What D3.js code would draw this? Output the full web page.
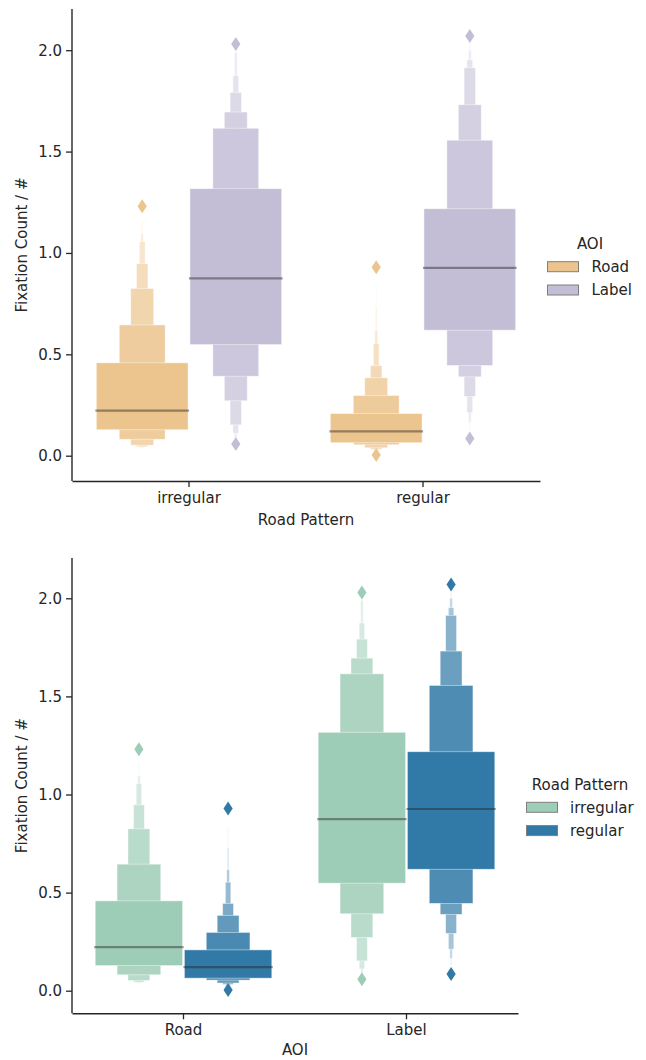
<!DOCTYPE html>
<html>
<head>
<meta charset="utf-8">
<script src="https://cdn.jsdelivr.net/npm/d3@7"></script>
<style>
  html, body { margin: 0; padding: 0; background: #fff; }
  text { font-family: "DejaVu Sans", sans-serif; fill: #262626; }
</style>
</head>
<body>
<svg id="chart" width="646" height="1060"></svg>
<script>
// ---------------- DATA ----------------
const roadPatterns = ["irregular", "regular"];
const aois = ["Road", "Label"];
const yTicks = [0.0, 0.5, 1.0, 1.5, 2.0];

// groups (AOI x Road Pattern)
const groupAOI = ["Road", "Road", "Label", "Label"];
const groupPattern = ["irregular", "regular", "irregular", "regular"];
const medianValues = [0.222, 0.120, 0.875, 0.926];
// letter values, innermost (quartiles) outward
const upperLetterValues = [
  [0.458, 0.645, 0.825, 0.947, 1.056, 1.095, 1.160],
  [0.208, 0.297, 0.384, 0.445, 0.553, 0.617, 0.730, 0.830],
  [1.317, 1.615, 1.695, 1.792, 1.874, 1.990, 2.010],
  [1.218, 1.556, 1.731, 1.913, 1.952, 2.000, 2.034]
];
const lowerLetterValues = [
  [0.128, 0.081, 0.052, 0.044, 0.041, 0.039, 0.037],
  [0.064, 0.054, 0.039, 0.032, 0.027, 0.023, 0.020, 0.015],
  [0.548, 0.392, 0.271, 0.152, 0.111, 0.089, 0.075],
  [0.619, 0.445, 0.389, 0.292, 0.212, 0.165, 0.130]
];
const outlierValues = [
  [1.23],
  [0.929, 0.003],
  [2.030, 0.058],
  [2.070, 0.085]
];

const aoiColors = ["#ecc48d", "#c3bed6"];
const patternColors = ["#9ecdb7", "#3179a6"];

// ---------------- DRAW ----------------
const svg = d3.select("#chart");
const ink = "#262626";

function drawPanel(cfg) {
  const g = svg.append("g");
  const x = d3.scaleBand().domain(cfg.cats).range([cfg.left, cfg.right]);
  const y = d3.scaleLinear().domain([0, 2]).range([cfg.y0, cfg.y2]);
  const hue = d3.scaleBand().domain(cfg.hues).range([-0.4 * x.bandwidth(), 0.4 * x.bandwidth()]);
  const color = d3.scaleOrdinal().domain(cfg.hues).range(cfg.colors);
  const boxW = hue.bandwidth() * 0.98;

  // boxes
  groupAOI.forEach((aoi, gi) => {
    const pat = groupPattern[gi];
    const cat = cfg.outerIsAOI ? aoi : pat;
    const h = cfg.outerIsAOI ? pat : aoi;
    const cx = x(cat) + x.bandwidth() / 2 + hue(h) + hue.bandwidth() / 2;
    const base = color(h);
    const up = upperLetterValues[gi], lo = lowerLetterValues[gi];
    const n = up.length;
    const levels = d3.range(n).reverse();
    const bg = g.append("g");
    bg.selectAll("rect").data(levels).enter().append("rect")
      .attr("x", k => cx - boxW * Math.pow(0.5, k) / 2)
      .attr("width", k => boxW * Math.pow(0.5, k))
      .attr("y", k => y(up[k]))
      .attr("height", k => y(lo[k]) - y(up[k]))
      .attr("fill", k => d3.interpolateRgb(base, "#ffffff")(n > 1 ? 0.85 * k / (n - 1) : 0))
      .attr("stroke", "#ffffff")
      .attr("stroke-opacity", 0.55)
      .attr("stroke-width", 0.8);
    // median
    bg.append("line")
      .attr("x1", cx - boxW / 2 - 1).attr("x2", cx + boxW / 2 + 1)
      .attr("y1", y(medianValues[gi])).attr("y2", y(medianValues[gi]))
      .attr("stroke", ink).attr("stroke-opacity", 0.45).attr("stroke-width", 2.2);
    // outliers (diamonds)
    bg.selectAll("path.out").data(outlierValues[gi]).enter().append("path")
      .attr("class", "out")
      .attr("d", v => {
        const py = y(v), hw = 4.6, hh = 7;
        return `M${cx},${py - hh}L${cx + hw},${py}L${cx},${py + hh}L${cx - hw},${py}Z`;
      })
      .attr("fill", base);
  });

  // axes
  const yAxis = d3.axisLeft(d3.scaleLinear().domain(y.domain()).range(y.range()))
    .tickValues(yTicks).tickFormat(d3.format(".1f")).tickSize(6).tickPadding(4).tickSizeOuter(0);
  const ya = g.append("g").attr("transform", `translate(${cfg.left},0)`).call(yAxis);
  // extend domain line to full axes height
  ya.select(".domain").attr("d", `M0,${cfg.top}V${cfg.bottom}`);
  const xAxis = d3.axisBottom(x).tickSize(6).tickPadding(5).tickSizeOuter(0);
  const xa = g.append("g").attr("transform", `translate(0,${cfg.bottom})`).call(xAxis);
  [ya, xa].forEach(a => {
    a.select(".domain").attr("stroke", ink).attr("stroke-width", 1.4);
    a.selectAll(".tick line").attr("stroke", ink).attr("stroke-width", 1.3);
    a.selectAll(".tick text").attr("font-size", 15).attr("fill", ink)
      .style("font-family", "DejaVu Sans");
  });

  // axis titles
  g.append("text")
    .attr("transform", `translate(${cfg.yTitleX},${(cfg.top + cfg.bottom) / 2}) rotate(-90)`)
    .attr("text-anchor", "middle").attr("dy", "0.35em")
    .attr("font-size", 15).text("Fixation Count / #");
  g.append("text")
    .attr("x", (cfg.left + cfg.right) / 2).attr("y", cfg.xTitleY)
    .attr("text-anchor", "middle").attr("dy", "0.35em")
    .attr("font-size", 15).text(cfg.xTitle);

  // legend
  const lg = g.append("g");
  lg.append("text").attr("x", cfg.legTitleX).attr("y", cfg.legTitleY)
    .attr("text-anchor", "middle").attr("dy", "0.35em").attr("font-size", 15).text(cfg.legTitle);
  const items = lg.selectAll("g.item").data(cfg.hues).enter().append("g")
    .attr("transform", (d, i) => `translate(${cfg.legX},${cfg.legY + i * 23.3})`);
  items.append("rect").attr("x", 0).attr("y", -5).attr("width", 31).attr("height", 10)
    .attr("fill", d => color(d)).attr("stroke", "#7f7f7f").attr("stroke-width", 1);
  items.append("text").attr("x", cfg.legTextDX).attr("y", 0).attr("dy", "0.35em")
    .attr("font-size", 15).text(d => d);
}

drawPanel({
  cats: roadPatterns, hues: aois, colors: aoiColors, outerIsAOI: false,
  left: 72, right: 540, top: 9, bottom: 481, y0: 455.7, y2: 50.2,
  yTitleX: 22, xTitleY: 520, xTitle: "Road Pattern",
  legTitle: "AOI", legTitleX: 590, legTitleY: 244, legX: 547.5, legY: 266.7, legTextDX: 44
});

drawPanel({
  cats: aois, hues: roadPatterns, colors: patternColors, outerIsAOI: true,
  left: 72, right: 518, top: 558, bottom: 1013.3, y0: 990.7, y2: 598.3,
  yTitleX: 22, xTitleY: 1050, xTitle: "AOI",
  legTitle: "Road Pattern", legTitleX: 580, legTitleY: 785, legX: 526.5, legY: 807.3, legTextDX: 43.5
});
</script>
</body>
</html>
